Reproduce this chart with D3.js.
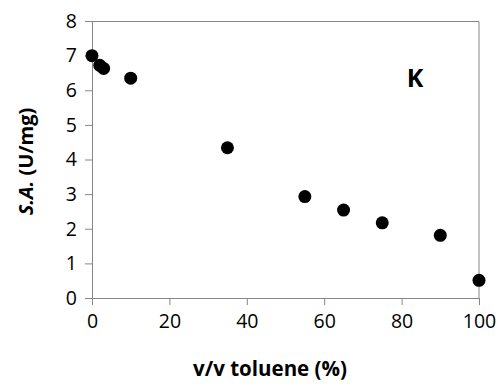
<!DOCTYPE html>
<html>
<head>
<meta charset="utf-8">
<script src="https://cdn.jsdelivr.net/npm/d3@7"></script>
<style>
  body { margin: 0; background: #fff; }
  svg text { font-family: "Open Sans", "Liberation Sans", sans-serif; fill: #000; }
</style>
</head>
<body>
<div id="chart"></div>
<script>
var toluene = [0, 2, 3, 10, 35, 55, 65, 75, 90, 100],
    activity = [7.0, 6.72, 6.63, 6.35, 4.34, 2.93, 2.54, 2.17, 1.81, 0.51],
    xTicks = [0, 20, 40, 60, 80, 100],
    yTicks = [0, 1, 2, 3, 4, 5, 6, 7, 8];

var W = 500, H = 386,
    margin = {left: 92, top: 21, right: 21, bottom: 88},
    width = W - margin.left - margin.right,
    height = H - margin.top - margin.bottom,
    axisColor = '#868686';

var svg = d3.select('#chart').append('svg')
    .attr('width', W)
    .attr('height', H);

var chart = svg.append('g')
    .attr('transform', 'translate(' + margin.left + ',' + margin.top + ')');

var xScale = d3.scaleLinear().domain([0, 100]).range([0, width]),
    yScale = d3.scaleLinear().domain([0, 8]).range([height, 0]);

// box (top + right)
chart.append('path')
    .attr('d', 'M0,0.5H' + width + 'V' + height)
    .attr('fill', 'none')
    .attr('stroke', axisColor)
    .attr('stroke-width', 1);

var xx = chart.append('g')
    .attr('transform', 'translate(0,' + height + ')')
    .call(d3.axisBottom(xScale).tickValues(xTicks).tickSize(7).tickSizeOuter(0).tickPadding(9));

var yy = chart.append('g')
    .call(d3.axisLeft(yScale).tickValues(yTicks).tickSize(7).tickSizeOuter(0).tickPadding(8));

[xx, yy].forEach(function(ax) {
    ax.select('.domain').attr('stroke', axisColor);
    ax.selectAll('.tick line').attr('stroke', axisColor);
    ax.selectAll('.tick text')
        .style('font-size', '19.5px')
        .style('font-family', '"Open Sans", sans-serif')
        .attr('fill', '#000');
});

chart.append('g').selectAll('circle')
    .data(toluene)
    .enter()
    .append('circle')
    .attr('cx', function(d) { return xScale(d); })
    .attr('cy', function(d, i) { return yScale(activity[i]); })
    .attr('r', 6.5)
    .attr('fill', '#000');

chart.append('text')
    .attr('x', xScale(83.5))
    .attr('y', yScale(6.1))
    .attr('text-anchor', 'middle')
    .style('font-size', '25px')
    .style('font-weight', 'bold')
    .text('K');

svg.append('text')
    .attr('x', 270)
    .attr('y', 376)
    .attr('text-anchor', 'middle')
    .style('font-size', '20.5px')
    .style('font-weight', 'bold')
    .text('v/v toluene (%)');

var ytitle = svg.append('text')
    .attr('transform', 'translate(33,' + (margin.top + height / 2 + 2) + ') rotate(-90)')
    .attr('text-anchor', 'middle')
    .style('font-size', '20px')
    .style('font-weight', 'bold');
ytitle.append('tspan').style('font-style', 'italic').text('S.A.');
ytitle.append('tspan').text(' (U/mg)');
</script>
</body>
</html>
